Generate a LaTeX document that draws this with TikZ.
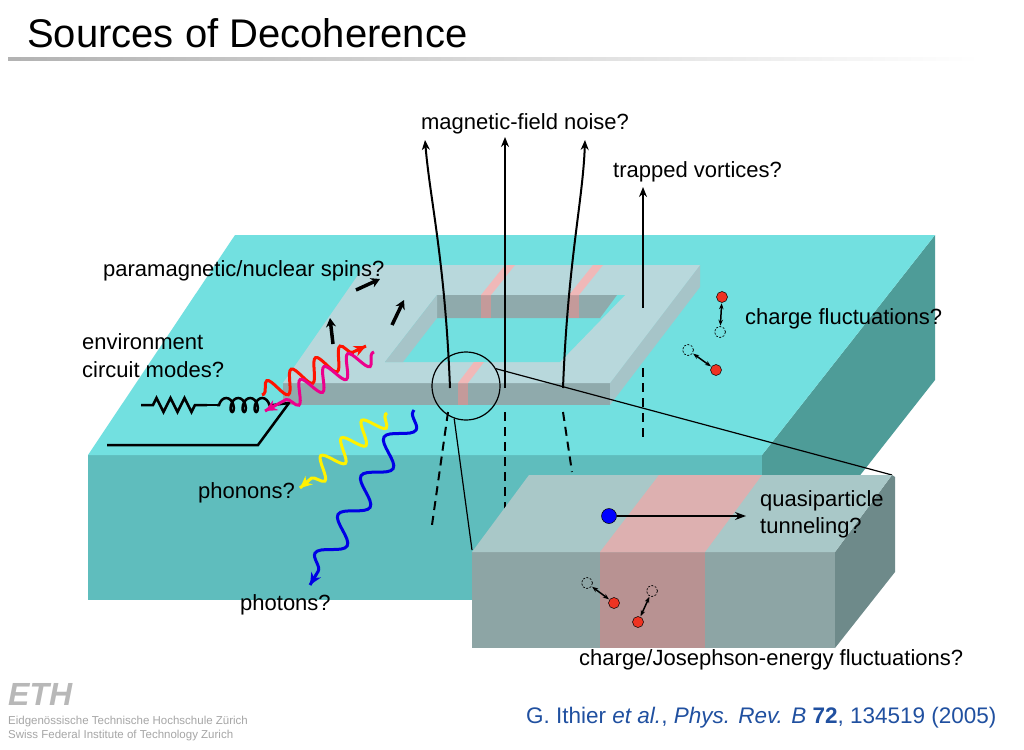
\documentclass[tikz,border=0pt]{standalone}
\usepackage{fontspec}
\setmainfont{Liberation Sans}
\usetikzlibrary{arrows.meta,calc,decorations.pathmorphing,decorations.pathreplacing}
\definecolor{ctop}{HTML}{72E0E0}
\definecolor{cfront}{HTML}{5FBDBD}
\definecolor{cright}{HTML}{4E9C98}
\definecolor{ltop}{HTML}{B8D8DC}
\definecolor{lface}{HTML}{8FAAAC}
\definecolor{lside}{HTML}{A6C4C8}
\definecolor{pk}{HTML}{F0B8B8}
\definecolor{pkd}{HTML}{C49A9A}
\definecolor{itop}{HTML}{A9C8C8}
\definecolor{ipk}{HTML}{DDB0B0}
\definecolor{ifront}{HTML}{8DA5A5}
\definecolor{ipkf}{HTML}{B89292}
\definecolor{iright}{HTML}{6E8A8A}
\definecolor{cite}{HTML}{2050A0}
\definecolor{reddot}{HTML}{EE3322}
\tikzset{
 lbl/.style={font=\fontsize{22}{26}\selectfont,inner sep=0pt},
 field/.style={line width=2pt,-{Stealth[length=10pt,width=8pt]}},
 dfield/.style={line width=2pt,dash pattern=on 9pt off 6pt},
 wave/.style 2 args={line width=3pt,decorate,decoration={snake,segment length=#1,amplitude=#2,pre length=2pt,post length=12pt}},
 wavetip/.style={-{Stealth[length=12pt,width=11pt]}},
 spin/.style={line width=3.5pt,-{Stealth[length=9pt,width=10pt]}},
 rdot/.style={circle,fill=reddot,draw=black,line width=0.5pt,minimum size=11pt,inner sep=0pt},
 odot/.style={circle,draw=black,dash pattern=on 2pt off 1.5pt,line width=0.7pt,minimum size=11pt,inner sep=0pt},
 dbl/.style={line width=1.5pt,{Stealth[length=6pt]}-{Stealth[length=6pt]},shorten <=0.5pt,shorten >=0.5pt},
}
\begin{document}
\begin{tikzpicture}[x=1pt,y=-1pt]
\useasboundingbox (0,0) rectangle (1024,749);
\fill[white] (0,0) rectangle (1024,749);
% title
\node[anchor=west,font=\fontsize{40}{46}\selectfont,inner sep=0pt] (title) at (27,33) {Sources of Decoherence};
\shade[left color=black!30,right color=white] (8,58) rectangle (980,61);
% substrate
\fill[cfront] (88,455) -- (762,455) -- (762,600) -- (88,600) -- cycle;
\fill[cright] (762,455) -- (935,235) -- (935,380) -- (762,600) -- cycle;
\fill[ctop] (88,455) -- (235,235) -- (935,235) -- (762,455) -- cycle;
% loop
\fill[lside] (610,383) -- (700,265) -- (700,287) -- (610,405) -- cycle;
\fill[lface] (283,383) -- (610,383) -- (610,405) -- (283,405) -- cycle;
\fill[pkd] (458,383) rectangle (468,405);
\fill[ltop] (283,383) -- (365,265) -- (700,265) -- (610,383) -- cycle;
\fill[ctop] (385,362) -- (437,295) -- (625,295) -- (560,362) -- cycle;
\fill[lface] (437,295) -- (617,295) -- (600,318) -- (437,318) -- cycle;
\fill[lside] (385,362) -- (437,295) -- (437,318) -- (403,362) -- cycle;
\fill[pkd] (481,295) rectangle (491,318);
\fill[pkd] (569,295) rectangle (579,318);
\fill[pk] (481,295) -- (505,265) -- (515,265) -- (491,295) -- cycle;
\fill[pk] (569,295) -- (593,265) -- (603,265) -- (579,295) -- cycle;
\fill[pk] (458,383) -- (474,362) -- (484,362) -- (468,383) -- cycle;
% field lines
\coordinate (f1a) at (450,388); \coordinate (f1b) at (425,140);
\coordinate (f2a) at (505,388); \coordinate (f2b) at (505,137);
\coordinate (f3a) at (563,388); \coordinate (f3b) at (585,140);
\coordinate (f4a) at (643,308); \coordinate (f4b) at (643,187);
\draw[field] (f1a) .. controls (445,260) and (430,200) .. (f1b);
\draw[field] (f2a) -- (f2b);
\draw[field] (f3a) .. controls (568,260) and (583,200) .. (f3b);
\draw[field] (f4a) -- (f4b);
\draw[dfield] (448,412) -- (432,525);
\draw[dfield] (505,412) -- (505,528);
\draw[dfield] (563,412) -- (572,472);
\draw[dfield] (643,368) -- (643,442);
% labels
\node[lbl] (mag) at (525,124) {magnetic-field noise?};
\node[lbl,anchor=west] (trap) at (613,172) {trapped vortices?};
\node[lbl,anchor=west] (para) at (103,271) {paramagnetic/nuclear spins?};
\node[lbl,anchor=west,align=left] (env) at (82,356) {environment\\[2pt]circuit modes?};
\node[lbl,anchor=west] (chf) at (745,319) {charge fluctuations?};
\node[lbl,anchor=west] (phon) at (198,493) {phonons?};
\node[lbl,anchor=west] (phot) at (240,605) {photons?};
% spins
\coordinate (s1a) at (356,290); \coordinate (s1b) at (380,279);
\coordinate (s2a) at (392,325); \coordinate (s2b) at (404,300);
\coordinate (s3a) at (333,344); \coordinate (s3b) at (330,318);
\draw[spin] (s1a) -- (s1b);
\draw[spin] (s2a) -- (s2b);
\draw[spin] (s3a) -- (s3b);
% circuit
\coordinate (c0) at (141,405); \coordinate (c1) at (207,405); \coordinate (c2) at (217,405);
\coordinate (c3) at (273,405); \coordinate (c4) at (289,403);
\coordinate (b0) at (107,445); \coordinate (b1) at (258,445);
\draw[line width=2.5pt,decorate,decoration={zigzag,segment length=14pt,amplitude=7pt,pre length=12pt,post length=12pt}] (c0) -- (c1);
\draw[line width=2.5pt] (c1) -- (c2);
\draw[line width=2.5pt,decorate,decoration={coil,aspect=0.6,segment length=12pt,amplitude=7pt,pre length=2pt,post length=3pt}] (c2) -- (c3);
\draw[line width=2.5pt] (c3) -- (c4) -- (b1) -- (b0);
% waves
\coordinate (r0) at (262,395); \coordinate (r1) at (366,346);
\coordinate (m0) at (374,352); \coordinate (m1) at (265,411);
\coordinate (y0) at (387,413); \coordinate (y1) at (300,488);
\coordinate (u0) at (414,410); \coordinate (u1) at (310,585);
\draw[wave={27pt}{11pt},draw=red!85!orange] (r0) -- (r1); \draw[red!85!orange,wavetip,line width=2.5pt] ($(r1)!12pt!(r0)$) -- (r1);
\draw[wave={27pt}{11pt},draw=magenta] (m0) -- (m1); \draw[magenta,wavetip,line width=2.5pt] ($(m1)!12pt!(m0)$) -- (m1);
\draw[wave={27pt}{11pt},draw=yellow] (y0) -- (y1); \draw[yellow,wavetip,line width=2.5pt] ($(y1)!12pt!(y0)$) -- (y1);
\draw[wave={45pt}{12pt},draw=blue!90!black] (u0) -- (u1); \draw[blue!90!black,wavetip,line width=2.5pt] ($(u1)!12pt!(u0)$) -- (u1);
% charge fluctuations on substrate
\node[rdot] (q1) at (722,297) {};
\node[odot] (q1o) at (720,332) {};
\draw[dbl] (q1) -- (q1o);
\node[odot] (q2o) at (688,350) {};
\node[rdot] (q2) at (716,370) {};
\draw[dbl] (q2o) -- (q2);
% zoom circle and lines
\node[circle,draw=black,line width=1.2pt,minimum size=68pt,inner sep=0pt] (zc) at (466,386) {};
\coordinate (zl) at (472,550); \coordinate (zr) at (892,475);
\draw[line width=1.2pt] (zc.250) -- (zl);
\draw[line width=1.2pt] (zc.30) -- (zr);
% inset
\fill[ifront] (472,552) rectangle (835,648);
\fill[ipkf] (600,552) rectangle (705,648);
\fill[iright] (835,552) -- (892,475) -- (895,477) -- (895,572) -- (835,648) -- cycle;
\fill[itop] (472,552) -- (529,475) -- (892,475) -- (835,552) -- cycle;
\fill[ipk] (600,552) -- (659,475) -- (762,475) -- (705,552) -- cycle;
\node[circle,fill=blue,draw=black,line width=0.5pt,minimum size=15pt,inner sep=0pt] (qp) at (609,516) {};
\coordinate (qpe) at (746,516);
\draw[line width=1.2pt,-{Stealth[length=11pt,width=8pt]}] (qp) -- (qpe);
\node[lbl,anchor=west,align=left] (qpt) at (760,514) {quasiparticle\\[1pt]tunneling?};
\node[odot] (j1o) at (587,583) {};
\node[rdot] (j1) at (614,603) {};
\draw[dbl] (j1o) -- (j1);
\node[rdot] (j2) at (638,622) {};
\node[odot] (j2o) at (652,591) {};
\draw[dbl] (j2) -- (j2o);
\node[lbl,anchor=west] (cjf) at (579,660) {charge/Josephson-energy fluctuations?};
% footer
\node[anchor=west,inner sep=0pt,font=\fontsize{32}{32}\selectfont\bfseries\itshape,text=black!28] (eth) at (8,694) {ETH};
\node[anchor=west,inner sep=0pt,font=\fontsize{11.5}{14}\selectfont,text=black!35,align=left] (ethtxt) at (8,729) {Eidgenössische Technische Hochschule Zürich\\Swiss Federal Institute of Technology Zurich};
\node[anchor=west,inner sep=0pt,font=\fontsize{22.5}{26}\selectfont,text=cite] (cit) at (526,718) {G. Ithier \textit{et al.}, \textit{Phys. Rev. B} \textbf{72}, 134519 (2005)};
\end{tikzpicture}
\end{document}
